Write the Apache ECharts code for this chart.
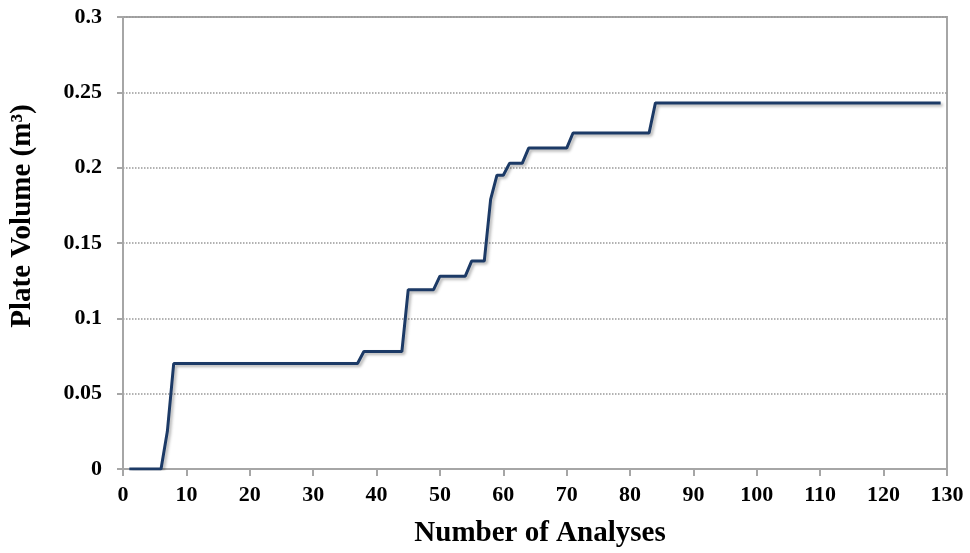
<!DOCTYPE html>
<html>
<head>
<meta charset="utf-8">
<script src="https://cdn.jsdelivr.net/npm/echarts@6/dist/echarts.min.js"></script>
<style>
  html, body { margin: 0; padding: 0; background: #fff; }
  #chart { width: 970px; height: 553px; }
</style>
</head>
<body>
<div id="chart"></div>
<script>
// breakpoints of the step curve (number of analyses -> plate volume)
var analyses = [1, 6, 7, 8, 37, 38, 44, 45, 49, 50, 54, 55, 57, 58, 59, 60, 61, 63, 64, 70, 71, 83, 84, 129]
var plateVolume = [0, 0, 0.025, 0.07, 0.07, 0.078, 0.078, 0.119, 0.119, 0.128, 0.128, 0.138, 0.138, 0.179,
  0.195, 0.195, 0.203, 0.203, 0.213, 0.213, 0.223, 0.223, 0.243, 0.243]

var points = analyses.map(function (x, i) { return [x, plateVolume[i]] })

var chart = echarts.init(document.getElementById('chart'))
var axisGray = '#a6a6a6'
var font = '"Liberation Serif", "Times New Roman", serif'

chart.setOption({
  animation: false,
  grid: {
    left: 122,
    right: 23,
    top: 17,
    bottom: 83,
    show: true,
    borderColor: axisGray,
    borderWidth: 2
  },
  xAxis: {
    type: 'value',
    min: 0,
    max: 130,
    interval: 10,
    name: 'Number of Analyses',
    nameLocation: 'middle',
    nameGap: 50,
    nameTextStyle: { fontFamily: font, fontSize: 29, fontWeight: 'bold', color: '#000', padding: [0, 0, 0, 10] },
    axisLine: { show: true, lineStyle: { color: axisGray, width: 2 } },
    axisTick: { show: true, length: 7, lineStyle: { color: axisGray, width: 2 } },
    axisLabel: { margin: 15, fontFamily: font, fontSize: 22, fontWeight: 'bold', color: '#000' },
    splitLine: { show: false }
  },
  yAxis: {
    type: 'value',
    min: 0,
    max: 0.3,
    interval: 0.05,
    name: 'Plate Volume (m³)',
    nameLocation: 'middle',
    nameGap: 86,
    // shift the title upward a bit, like the reference
    nameTextStyle: { fontFamily: font, fontSize: 29, fontWeight: 'bold', color: '#000', padding: [0, 0, 0, 54] },
    axisLine: { show: true, lineStyle: { color: axisGray, width: 2 } },
    axisTick: { show: true, length: 6, lineStyle: { color: axisGray, width: 2 } },
    axisLabel: { margin: 21, fontFamily: font, fontSize: 22, fontWeight: 'bold', color: '#000' },
    splitLine: {
      show: true,
      lineStyle: { type: 'dotted', color: '#999', width: 1.5 }
    }
  },
  series: [
    {
      type: 'line',
      data: points,
      showSymbol: false,
      lineStyle: {
        color: '#1c3a66',
        width: 3,
        shadowColor: 'rgba(0,0,0,0.3)',
        shadowBlur: 3,
        shadowOffsetX: 2,
        shadowOffsetY: 2
      }
    }
  ]
})
</script>
</body>
</html>
